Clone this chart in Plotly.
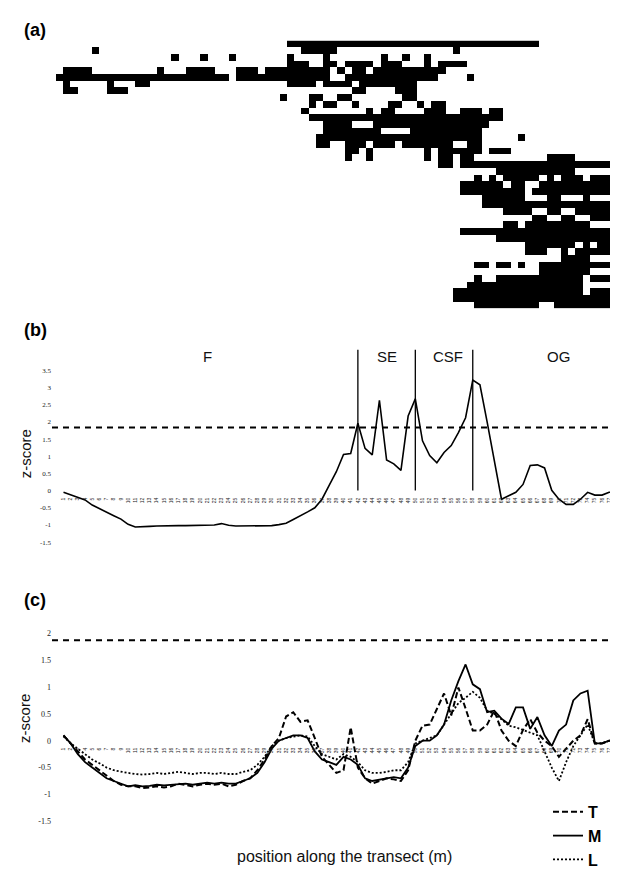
import plotly.graph_objects as go

W, H = 618, 869

# ---------------- (a) presence / absence matrix (rows x 79 positions) -------------
N_COLS = 79
presence_runs = [
    [(33, 67)],
    [(6, 6), (35, 39), (56, 56)],
    [(17, 17), (21, 21), (25, 25), (33, 33), (38, 38), (46, 46), (49, 49), (52, 52)],
    [(33, 35), (38, 39), (41, 44), (46, 48), (52, 52), (54, 57)],
    [(2, 5), (15, 15), (19, 22), (26, 28), (30, 38), (40, 40), (42, 43), (45, 54)],
    [(1, 24), (26, 38), (41, 53), (58, 58)],
    [(2, 2), (8, 8), (12, 13), (33, 36), (38, 41), (43, 50)],
    [(2, 3), (8, 10), (42, 43), (48, 50)],
    [(32, 32), (36, 37), (40, 41), (49, 50)],
    [(36, 36), (38, 39), (42, 42), (47, 48), (51, 51), (53, 54)],
    [(35, 35), (44, 44), (46, 47), (52, 54), (57, 59), (61, 62)],
    [(36, 62)],
    [(38, 41), (45, 60)],
    [(38, 45), (50, 59)],
    [(37, 59), (65, 65)],
    [(37, 38), (41, 43), (45, 47), (49, 55), (58, 59)],
    [(41, 42), (44, 44), (52, 52), (54, 59), (61, 63)],
    [(41, 41), (44, 44), (52, 52), (54, 55), (57, 58), (69, 72)],
    [(54, 55), (57, 77), (79, 79)],
    [(62, 72), (78, 79)],
    [(59, 59), (61, 61), (63, 67), (69, 69), (71, 73), (75, 79)],
    [(57, 62), (64, 65), (68, 79)],
    [(57, 65), (67, 79)],
    [(60, 65), (69, 70), (74, 74)],
    [(60, 79)],
    [(63, 66), (69, 70), (73, 79)],
    [(67, 68), (71, 72), (75, 79)],
    [(63, 64), (66, 74)],
    [(57, 79)],
    [(62, 79)],
    [(66, 72), (74, 74), (76, 79)],
    [(66, 68), (71, 71), (73, 79)],
    [(71, 74), (78, 79)],
    [(59, 60), (62, 63), (65, 65), (68, 79)],
    [(68, 74)],
    [(59, 59), (62, 73), (75, 79)],
    [(58, 73)],
    [(56, 73), (75, 78)],
    [(56, 79)],
    [(59, 67), (70, 79)],
]

# ---------------- (b) z-score along the transect --------------------------------
positions = list(range(1, 80))
zscore_b = [
    -0.05, -0.12, -0.20, -0.27, -0.42, -0.53, -0.63, -0.73, -0.83, -0.98,
    -1.06, -1.06, -1.04, -1.03, -1.02, -1.02, -1.02, -1.02, -1.02, -1.02,
    -1.02, -1.00, -0.96, -1.01, -1.03, -1.03, -1.03, -1.03, -1.03, -1.02,
    -0.99, -0.95, -0.84, -0.74, -0.62, -0.50, -0.25, 0.15, 0.55, 1.05,
    1.08, 1.96, 1.23, 1.04, 2.63, 0.89, 0.78, 0.59, 2.17, 2.67,
    1.45, 1.02, 0.81, 1.11, 1.31, 1.69, 2.12, 3.22, 3.08, 2.00,
    0.87, -0.25, -0.15, -0.05, 0.18, 0.73, 0.75, 0.66, 0.01, -0.25,
    -0.40, -0.40, -0.25, -0.05, -0.13, -0.13, -0.05, 0.01, 0.19,
]
threshold_b = 1.84
zone_bounds = [42, 50, 58]
zone_names = ["F", "SE", "CSF", "OG"]
zone_name_x = [21.1, 46.1, 54.6, 69.9]
zone_name_y = 3.9
zone_line_top = 4.1
yticks_b = [-1.5, -1, -0.5, 0, 0.5, 1, 1.5, 2, 2.5, 3, 3.5]

# ---------------- (c) z-scores for the three strata ------------------------------
T_vals = [
    0.10, -0.05, -0.20, -0.35, -0.45, -0.55, -0.65, -0.75, -0.82, -0.85,
    -0.85, -0.88, -0.87, -0.85, -0.87, -0.85, -0.80, -0.82, -0.85, -0.82,
    -0.80, -0.82, -0.80, -0.85, -0.82, -0.75, -0.70, -0.55, -0.35, -0.10,
    0.05, 0.45, 0.53, 0.35, 0.38, 0.05, -0.30, -0.45, -0.60, -0.55,
    0.25, -0.50, -0.70, -0.80, -0.75, -0.70, -0.72, -0.75, -0.55, 0.00,
    0.28, 0.30, 0.59, 0.88, 0.47, 0.99, 0.60, 0.19, 0.19, 0.30,
    0.56, 0.19, 0.00, -0.10, 0.20, 0.40, 0.15, 0.00, -0.10, -0.30,
    -0.15, 0.00, 0.10, 0.40, -0.05, -0.05, 0.00, 0.00, 0.05,
]
M_vals = [
    0.10, -0.05, -0.25, -0.40, -0.50, -0.60, -0.70, -0.75, -0.80, -0.85,
    -0.83, -0.85, -0.84, -0.82, -0.83, -0.82, -0.80, -0.80, -0.82, -0.80,
    -0.78, -0.80, -0.78, -0.80, -0.80, -0.75, -0.70, -0.60, -0.40, -0.15,
    0.00, 0.05, 0.10, 0.10, 0.05, -0.20, -0.35, -0.40, -0.45, -0.30,
    -0.35, -0.45, -0.70, -0.75, -0.72, -0.70, -0.68, -0.70, -0.50, -0.10,
    0.00, 0.00, 0.10, 0.30, 0.75, 1.11, 1.42, 1.05, 0.96, 0.53,
    0.56, 0.41, 0.31, 0.62, 0.62, 0.22, 0.44, 0.10, -0.10, 0.19,
    0.30, 0.75, 0.88, 0.93, -0.05, -0.05, 0.00, 0.00, 0.05,
]
L_vals = [
    0.08, -0.05, -0.15, -0.25, -0.35, -0.42, -0.50, -0.55, -0.58, -0.60,
    -0.62, -0.63, -0.62, -0.60, -0.62, -0.60, -0.58, -0.60, -0.62, -0.60,
    -0.60, -0.62, -0.60, -0.62, -0.62, -0.58, -0.55, -0.45, -0.30, -0.10,
    0.00, 0.05, 0.08, 0.10, 0.08, -0.10, -0.25, -0.30, -0.35, -0.25,
    -0.30, -0.40, -0.55, -0.60, -0.60, -0.58, -0.55, -0.55, -0.40, -0.05,
    0.00, 0.05, 0.10, 0.30, 0.50, 0.70, 0.80, 0.91, 0.80, 0.56,
    0.50, 0.40, 0.28, 0.25, 0.20, 0.15, 0.10, -0.20, -0.50, -0.75,
    -0.40, -0.10, 0.10, 0.30, -0.05, -0.05, 0.00, 0.00, 0.05,
]
threshold_c = 1.87
yticks_c = [-1.5, -1, -0.5, 0, 0.5, 1, 1.5, 2]

# ---------------- geometry helpers (pixel -> paper) ------------------------------
def py(y):
    return 1 - y / H


def px(x):
    return x / W


# heatmap cell grid: left edge 48 px, 7.22 px per position; rows 33..304 px
cell_w, cell_x0 = 7.22, 48.0
hx_range = [(0 - cell_x0) / cell_w + 0.5, (W - cell_x0) / cell_w + 0.5]

# line panels: position p at pt_x1 + (p-1)*pt_dx px
pt_x1, pt_dx = 55.5, 7.18
plot_left = 44.0
lx_range = [1 + (plot_left - pt_x1) / pt_dx, 1 + (W - pt_x1) / pt_dx]

zero_b, unit_b, top_b, bot_b = 488.8, 34.8, 340.0, 548.0
zero_c, unit_c, top_c, bot_c = 742.1, 54.4, 620.0, 840.0

# build matrix
z = []
for runs in presence_runs:
    row = [0] * N_COLS
    for a, b in runs:
        for c in range(a, b + 1):
            row[c - 1] = 1
    z.append(row)

fig = go.Figure()

fig.add_trace(go.Heatmap(
    z=z, x=positions, y=list(range(len(z))),
    colorscale=[[0, "#ffffff"], [1, "#000000"]], zmin=0, zmax=1,
    showscale=False, hoverinfo="skip", xaxis="x", yaxis="y",
))

fig.add_trace(go.Scatter(
    x=positions, y=zscore_b, mode="lines", xaxis="x2", yaxis="y2",
    line=dict(color="#000000", width=1.6), showlegend=False, hoverinfo="skip",
))

fig.add_trace(go.Scatter(
    x=positions, y=T_vals, mode="lines", name="<b>T</b>", xaxis="x3", yaxis="y3",
    line=dict(color="#000000", width=2, dash="6px,3px"),
))
fig.add_trace(go.Scatter(
    x=positions, y=M_vals, mode="lines", name="<b>M</b>", xaxis="x3", yaxis="y3",
    line=dict(color="#000000", width=1.8),
))
fig.add_trace(go.Scatter(
    x=positions, y=L_vals, mode="lines", name="<b>L</b>", xaxis="x3", yaxis="y3",
    line=dict(color="#000000", width=1.8, dash="2px,2px"),
))

serif = "Liberation Serif"
sans = "Liberation Sans, Arial, sans-serif"

common_x = dict(
    tickmode="array", tickvals=positions, ticktext=[str(p) for p in positions],
    tickangle=-90, tickfont=dict(family=sans, size=5, color="#222"),
    ticks="outside", ticklen=4, tickcolor="rgba(0,0,0,0)",
    showgrid=False, zeroline=False, showline=False, anchor="free",
)

fig.update_layout(
    width=W, height=H, margin=dict(l=0, r=0, t=0, b=0),
    paper_bgcolor="white", plot_bgcolor="rgba(0,0,0,0)",
    xaxis=dict(domain=[0, 1], range=hx_range, visible=False, fixedrange=True),
    yaxis=dict(domain=[py(33 + 6.78 * len(z)), py(33)],
               range=[len(z) - 0.5, -0.5], visible=False),
    xaxis2=dict(domain=[px(plot_left), 1], range=lx_range,
                position=py(zero_b), **common_x),
    yaxis2=dict(domain=[py(bot_b), py(top_b)],
                range=[(zero_b - bot_b) / unit_b, (zero_b - top_b) / unit_b],
                anchor="x2", tickmode="array", tickvals=yticks_b,
                ticktext=[f"{v:g}" for v in yticks_b],
                tickfont=dict(family=serif, size=7, color="#222"),
                showgrid=False, zeroline=False, showline=False, ticks=""),
    xaxis3=dict(domain=[px(plot_left), 1], range=lx_range,
                position=py(zero_c), **common_x),
    yaxis3=dict(domain=[py(bot_c), py(top_c)],
                range=[(zero_c - bot_c) / unit_c, (zero_c - top_c) / unit_c],
                anchor="x3", tickmode="array", tickvals=yticks_c,
                ticktext=[f"{v:g}" for v in yticks_c],
                tickfont=dict(family=serif, size=8, color="#222"),
                showgrid=False, zeroline=False, showline=False, ticks=""),
    legend=dict(x=px(540), y=py(797), xanchor="left", yanchor="top",
                font=dict(family=sans, size=16, color="#000"),
                bgcolor="rgba(0,0,0,0)", itemwidth=30, tracegroupgap=0),
    showlegend=True,
)

shapes = []
shapes.append(dict(type="line", xref="x2 domain", yref="y2", x0=0, x1=1,
                   y0=threshold_b, y1=threshold_b,
                   line=dict(color="#000", width=2, dash="6px,5px")))
for zb in zone_bounds:
    shapes.append(dict(type="line", xref="x2", yref="y2", x0=zb, x1=zb,
                       y0=0, y1=zone_line_top, line=dict(color="#000", width=1.3)))
shapes.append(dict(type="line", xref="x3 domain", yref="y3", x0=0, x1=1,
                   y0=threshold_c, y1=threshold_c,
                   line=dict(color="#000", width=2, dash="6px,5px")))
fig.update_layout(shapes=shapes)

ann = []
for lab, xx in zip(zone_names, zone_name_x):
    ann.append(dict(text=lab, x=xx, y=zone_name_y, xref="x2", yref="y2",
                    xanchor="center", yanchor="middle",
                    showarrow=False, font=dict(family=sans, size=15, color="#111")))
for lab, yy in [("(a)", 22), ("(b)", 326), ("(c)", 600)]:
    ann.append(dict(text=f"<b>{lab}</b>", x=px(14), y=py(yy), xref="paper", yref="paper",
                    xanchor="left", yanchor="middle", showarrow=False,
                    font=dict(family=sans, size=18, color="#000")))
for yy in [452, 720]:
    ann.append(dict(text="z-score", x=px(17), y=py(yy), xref="paper", yref="paper",
                    xanchor="center", yanchor="middle",
                    textangle=-90, showarrow=False,
                    font=dict(family=sans, size=15, color="#111")))
ann.append(dict(text="position along the transect (m)", x=px(336), y=py(859),
                xref="paper", yref="paper", xanchor="center", yanchor="middle",
                showarrow=False, font=dict(family=sans, size=16, color="#111")))
fig.update_layout(annotations=ann)

fig.write_html("out.html")
